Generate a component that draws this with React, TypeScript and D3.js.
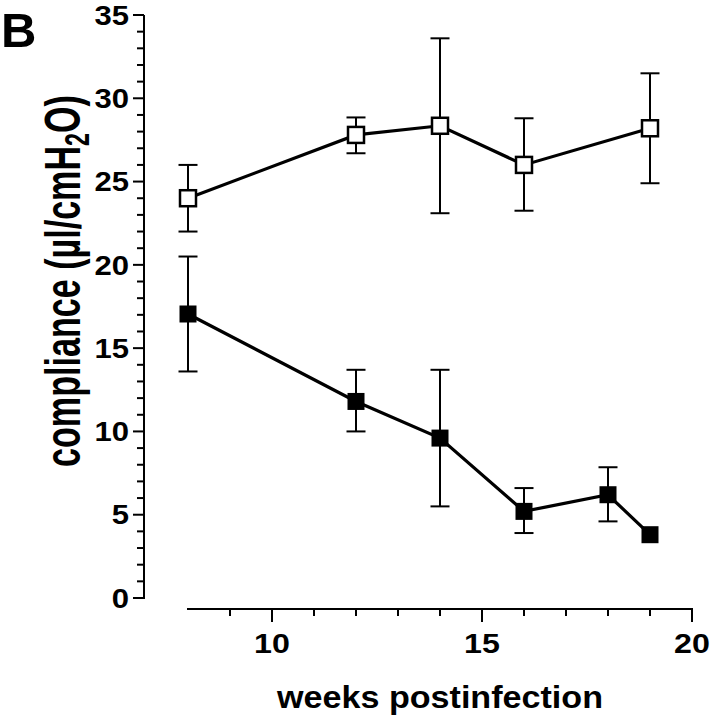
import * as d3 from 'd3';

const weeksInfected = [8, 12, 14, 16, 18, 19];
const infectedMean = [17.05, 11.8, 9.6, 5.2, 6.2, 3.8];
const infectedLow: (number | null)[] = [13.6, 10.0, 5.5, 3.9, 4.6, null];
const infectedHigh: (number | null)[] = [20.5, 13.7, 13.7, 6.6, 7.85, null];

const weeksControl = [8, 12, 14, 16, 19];
const controlMean = [24.0, 27.8, 28.35, 26.0, 28.2];
const controlLow = [22.0, 26.7, 23.1, 23.25, 24.9];
const controlHigh = [26.0, 28.85, 33.6, 28.8, 31.5];

const yMajor = [0, 5, 10, 15, 20, 25, 30, 35];
const xMajor = [10, 15, 20];

const FONT = '"Liberation Sans", Arial, Helvetica, sans-serif';

export default function App() {
  const width = 710;
  const height = 719;

  const x = d3.scaleLinear().domain([8, 20]).range([188, 692]);
  const y = d3.scaleLinear().domain([0, 35]).range([598, 15]);

  const yMinor = d3.range(0, 36, 1).filter(v => v % 5 !== 0);
  const xMinor = d3.range(9, 20, 1).filter(v => v % 5 !== 0);

  const line = d3.line<[number, number]>()
    .x(d => x(d[0]))
    .y(d => y(d[1]));

  const infected = weeksInfected.map((w, i) => [w, infectedMean[i]] as [number, number]);
  const control = weeksControl.map((w, i) => [w, controlMean[i]] as [number, number]);

  const cap = 9.5;
  const errBar = (w: number, lo: number | null, hi: number | null, key: string) => {
    if (lo == null || hi == null) return null;
    const cx = x(w);
    return (
      <g key={key} stroke="#000" strokeWidth={2}>
        <line x1={cx} x2={cx} y1={y(lo)} y2={y(hi)} />
        <line x1={cx - cap} x2={cx + cap} y1={y(lo)} y2={y(lo)} />
        <line x1={cx - cap} x2={cx + cap} y1={y(hi)} y2={y(hi)} />
      </g>
    );
  };

  const yAxisX = 144;
  const xAxisY = 609;

  return (
    <svg
      width={width}
      height={height}
      style={{ position: 'absolute', left: 0, top: 0, background: '#fff' }}
      fontFamily={FONT}
      fontWeight="bold"
    >
      <rect x={0} y={0} width={width} height={height} fill="#fff" />

      {/* panel letter */}
      <text x={1} y={47} fontSize={49}>B</text>

      {/* y axis */}
      <g stroke="#000" strokeWidth={2}>
        <line x1={yAxisX} x2={yAxisX} y1={y(35)} y2={y(0) + 1} />
        {yMajor.map(v => (
          <line key={'ym' + v} x1={yAxisX - 11} x2={yAxisX} y1={y(v)} y2={y(v)} />
        ))}
        {yMinor.map(v => (
          <line key={'yn' + v} x1={yAxisX - 7} x2={yAxisX} y1={y(v)} y2={y(v)} />
        ))}
      </g>
      {yMajor.map(v => (
        <g key={'yl' + v} transform={`translate(129, ${y(v)}) scale(1.15, 1)`}>
          <text x={0} y={0} dy="0.36em" fontSize={27} textAnchor="end">
            {v}
          </text>
        </g>
      ))}

      {/* x axis */}
      <g stroke="#000" strokeWidth={2}>
        <line x1={x(8) - 1} x2={x(20) + 1} y1={xAxisY} y2={xAxisY} />
        {xMajor.map(v => (
          <line key={'xm' + v} x1={x(v)} x2={x(v)} y1={xAxisY} y2={xAxisY + 13} />
        ))}
        {xMinor.map(v => (
          <line key={'xn' + v} x1={x(v)} x2={x(v)} y1={xAxisY} y2={xAxisY + 7} />
        ))}
      </g>
      {xMajor.map(v => (
        <g key={'xl' + v} transform={`translate(${x(v)}, 653) scale(1.15, 1)`}>
          <text x={0} y={0} fontSize={28} textAnchor="middle">
            {v}
          </text>
        </g>
      ))}

      {/* axis titles */}
      <text
        x={x(14)}
        y={708}
        fontSize={31}
        textAnchor="middle"
        textLength={326}
        lengthAdjust="spacingAndGlyphs"
      >
        weeks postinfection
      </text>
      <g transform={`translate(80, 281) rotate(-90) scale(1, 1.45)`}>
        <text x={0} y={0} fontSize={35} textAnchor="middle" textLength={372} lengthAdjust="spacingAndGlyphs">
          compliance (µl/cmH
          <tspan fontSize={24} dy={6}>2</tspan>
          <tspan dy={-6}>O)</tspan>
        </text>
      </g>

      {/* error bars */}
      {weeksControl.map((w, i) => errBar(w, controlLow[i], controlHigh[i], 'ce' + i))}
      {weeksInfected.map((w, i) => errBar(w, infectedLow[i], infectedHigh[i], 'ie' + i))}

      {/* lines */}
      <path d={line(control) ?? ''} fill="none" stroke="#000" strokeWidth={3.2} />
      <path d={line(infected) ?? ''} fill="none" stroke="#000" strokeWidth={3.2} />

      {/* markers */}
      {control.map((d, i) => (
        <rect
          key={'cm' + i}
          x={x(d[0]) - 8}
          y={y(d[1]) - 8}
          width={16}
          height={16}
          fill="#fff"
          stroke="#000"
          strokeWidth={2.5}
        />
      ))}
      {infected.map((d, i) => (
        <rect key={'im' + i} x={x(d[0]) - 8.5} y={y(d[1]) - 8.5} width={17} height={17} fill="#000" />
      ))}
    </svg>
  );
}
